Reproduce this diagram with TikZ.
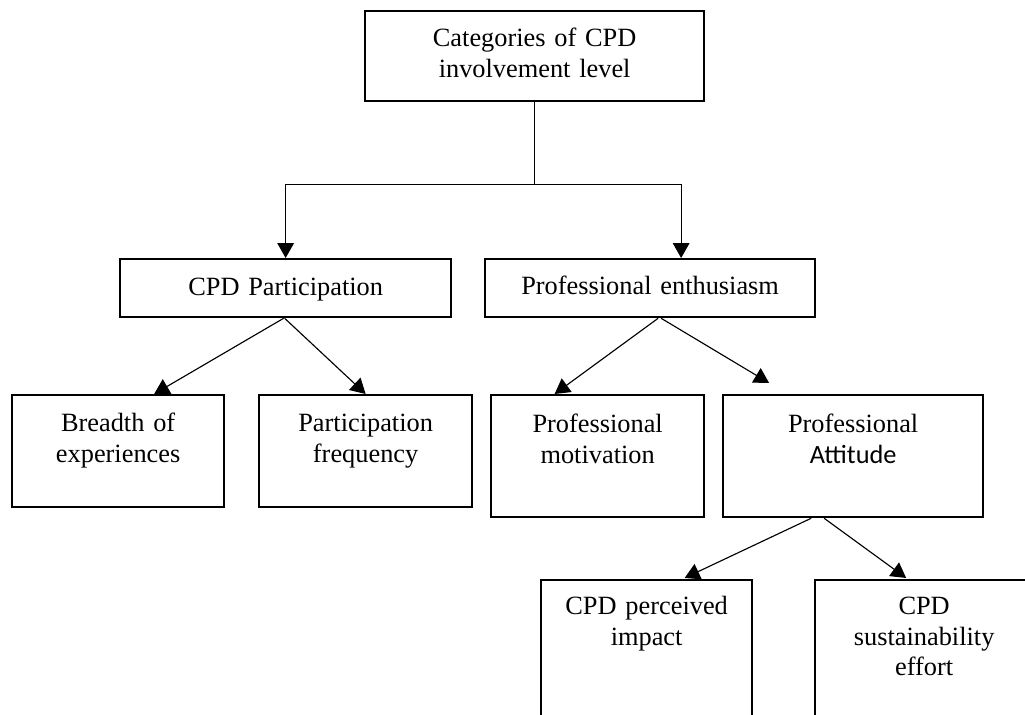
\documentclass[tikz,border=0pt]{standalone}
\usepackage{fontspec}
\setmainfont{Liberation Serif}
\newfontfamily\attfont{Carlito}
\usetikzlibrary{calc,arrows.meta}
\newdimen\pix
\pix=0.02cm
\tikzset{%
  box/.style={draw, line width=1.3pt, inner sep=0pt, align=center, anchor=north west,
    font=\fontsize{15}{17.6}\selectfont},% category box
  conn/.style={line width=0.65pt},% plain connector
  arr/.style={conn, -{Triangle[length=8.5pt,width=9.5pt]}}% connector with head
}
\begin{document}
\begin{tikzpicture}[x=0.02cm, y=-0.02cm]
\useasboundingbox (0,0) rectangle (1025,715);
\clip (0,0) rectangle (1025,715);

\node[box, text width=339\pix, text height=35\pix, text depth=55\pix] (cat) at (364,10) {Categories of CPD\\involvement level};

\node[box, text width=331\pix, text height=36\pix, text depth=22\pix] (part) at (119,258) {CPD Participation};
\node[box, text width=330\pix, text height=35\pix, text depth=23\pix] (enth) at (484,258) {Professional enthusiasm};

\node[box, text width=212\pix, text height=36\pix, text depth=76\pix] (bre) at (11,394) {Breadth of\\experiences};
\node[box, text width=213\pix, text height=36\pix, text depth=76\pix] (freq) at (258,394) {Participation\\frequency};
\node[box, text width=213\pix, text height=37\pix, text depth=85\pix] (mot) at (490,394) {Professional\\motivation};
\node[box, text width=260\pix, text height=37\pix, text depth=85\pix] (att) at (722,394) {Professional\\{\attfont Attitude}};

\node[box, text width=211\pix, text height=34\pix, text depth=160\pix] (imp) at (540,579) {CPD perceived\\impact};
\node[box, text width=218\pix, text height=34\pix, text depth=160\pix] (sus) at (814,579) {CPD\\sustainability\\effort};

% top level split
\draw[conn] (cat.south) -- ++(0,82) coordinate (split);
\draw[arr] (split) -| (part.north);
\draw[arr] (split) -| ($(enth.north)+(31,0)$);

% second level
\draw[arr] ($(part.south)+(-2,0)$) -- ($(bre.north)+(36,0)$);
\draw[arr] ($(part.south)+(-1,0)$) -- (freq.north);
\draw[arr] ($(enth.south)+(8,0)$) -- ($(mot.north)+(-43,0)$);
\draw[arr] ($(enth.south)+(11,0)$) -- ($(att.north)+(-84,-11)$);

% third level
\draw[arr] ($(att.south)+(-42,0)$) -- ($(imp.north)+(38,-1)$);
\draw[arr] ($(att.south)+(-29,0)$) -- ($(sus.north)+(-18,-1)$);

\end{tikzpicture}
\end{document}
